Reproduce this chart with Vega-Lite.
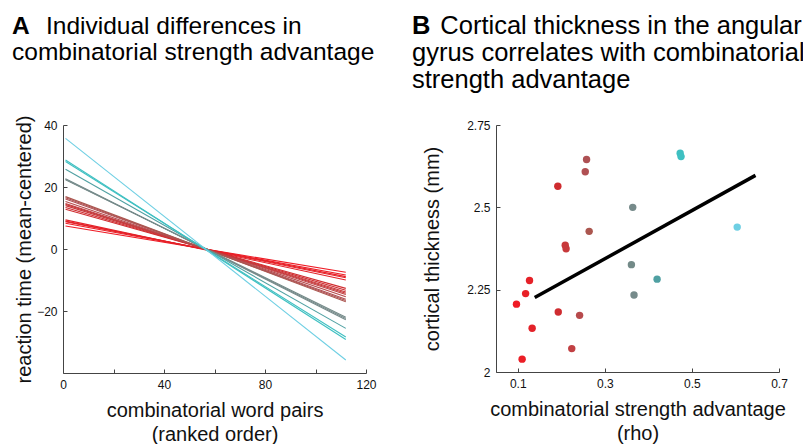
{
  "$schema": "https://vega.github.io/schema/vega-lite/v6.json",
  "background": "white",
  "padding": {"left": 12, "top": 13, "right": 4, "bottom": 0},
  "spacing": 35,
  "datasets": {
    "lines": [
      {"subject": "s01", "rho": 0.097, "pair": 1, "rt": 7.4}, {"subject": "s01", "rho": 0.097, "pair": 112, "rt": -7.5},
      {"subject": "s02", "rho": 0.110, "pair": 1, "rt": 8.3}, {"subject": "s02", "rho": 0.110, "pair": 112, "rt": -8.4},
      {"subject": "s03", "rho": 0.118, "pair": 1, "rt": 8.8}, {"subject": "s03", "rho": 0.118, "pair": 112, "rt": -8.9},
      {"subject": "s04", "rho": 0.127, "pair": 1, "rt": 9.0}, {"subject": "s04", "rho": 0.127, "pair": 112, "rt": -9.3},
      {"subject": "s05", "rho": 0.133, "pair": 1, "rt": 9.4}, {"subject": "s05", "rho": 0.133, "pair": 112, "rt": -10.0},
      {"subject": "s06", "rho": 0.192, "pair": 1, "rt": 12.8}, {"subject": "s06", "rho": 0.192, "pair": 112, "rt": -12.7},
      {"subject": "s07", "rho": 0.193, "pair": 1, "rt": 13.4}, {"subject": "s07", "rho": 0.193, "pair": 112, "rt": -13.3},
      {"subject": "s08", "rho": 0.209, "pair": 1, "rt": 14.0}, {"subject": "s08", "rho": 0.209, "pair": 112, "rt": -13.9},
      {"subject": "s09", "rho": 0.211, "pair": 1, "rt": 14.4}, {"subject": "s09", "rho": 0.211, "pair": 112, "rt": -14.3},
      {"subject": "s10", "rho": 0.224, "pair": 1, "rt": 14.7}, {"subject": "s10", "rho": 0.224, "pair": 112, "rt": -14.7},
      {"subject": "s11", "rho": 0.242, "pair": 1, "rt": 15.3}, {"subject": "s11", "rho": 0.242, "pair": 112, "rt": -15.4},
      {"subject": "s12", "rho": 0.255, "pair": 1, "rt": 16.1}, {"subject": "s12", "rho": 0.255, "pair": 112, "rt": -16.2},
      {"subject": "s13", "rho": 0.258, "pair": 1, "rt": 16.5}, {"subject": "s13", "rho": 0.258, "pair": 112, "rt": -16.6},
      {"subject": "s14", "rho": 0.264, "pair": 1, "rt": 16.9}, {"subject": "s14", "rho": 0.264, "pair": 112, "rt": -17.0},
      {"subject": "s15", "rho": 0.361, "pair": 1, "rt": 22.3}, {"subject": "s15", "rho": 0.361, "pair": 112, "rt": -22.0},
      {"subject": "s16", "rho": 0.364, "pair": 1, "rt": 22.5}, {"subject": "s16", "rho": 0.364, "pair": 112, "rt": -22.4},
      {"subject": "s17", "rho": 0.367, "pair": 1, "rt": 22.7}, {"subject": "s17", "rho": 0.367, "pair": 112, "rt": -22.8},
      {"subject": "s18", "rho": 0.420, "pair": 1, "rt": 25.7}, {"subject": "s18", "rho": 0.420, "pair": 112, "rt": -25.6},
      {"subject": "s19", "rho": 0.473, "pair": 1, "rt": 28.2}, {"subject": "s19", "rho": 0.473, "pair": 112, "rt": -28.4},
      {"subject": "s20", "rho": 0.475, "pair": 1, "rt": 28.7}, {"subject": "s20", "rho": 0.475, "pair": 112, "rt": -29.2},
      {"subject": "s21", "rho": 0.604, "pair": 1, "rt": 35.7}, {"subject": "s21", "rho": 0.604, "pair": 112, "rt": -35.8}
    ],
    "points": [
      {"rho": 0.097, "thickness": 2.206},
      {"rho": 0.110, "thickness": 2.039},
      {"rho": 0.118, "thickness": 2.238},
      {"rho": 0.127, "thickness": 2.278},
      {"rho": 0.133, "thickness": 2.133},
      {"rho": 0.192, "thickness": 2.564},
      {"rho": 0.193, "thickness": 2.182},
      {"rho": 0.209, "thickness": 2.385},
      {"rho": 0.211, "thickness": 2.374},
      {"rho": 0.224, "thickness": 2.071},
      {"rho": 0.242, "thickness": 2.172},
      {"rho": 0.255, "thickness": 2.608},
      {"rho": 0.258, "thickness": 2.645},
      {"rho": 0.264, "thickness": 2.427},
      {"rho": 0.364, "thickness": 2.500},
      {"rho": 0.361, "thickness": 2.326},
      {"rho": 0.367, "thickness": 2.234},
      {"rho": 0.420, "thickness": 2.282},
      {"rho": 0.473, "thickness": 2.664},
      {"rho": 0.475, "thickness": 2.654},
      {"rho": 0.604, "thickness": 2.440}
    ],
    "fit": [
      {"rho": 0.139, "thickness": 2.226},
      {"rho": 0.646, "thickness": 2.597}
    ]
  },
  "config": {
    "font": "Liberation Sans",
    "view": {"stroke": null},
    "axis": {
      "grid": false,
      "domainColor": "#444444",
      "tickColor": "#444444",
      "labelColor": "#111111",
      "titleColor": "#111111",
      "labelFont": "Liberation Sans",
      "titleFont": "Liberation Sans",
      "labelFontSize": 12,
      "titleFontSize": 20,
      "titleFontWeight": "normal",
      "tickSize": -4,
      "labelPadding": 10,
      "labelFlush": false,
      "domainWidth": 1,
      "tickWidth": 1
    },
    "title": {
      "font": "Liberation Sans",
      "subtitleFont": "Liberation Sans",
      "color": "#000000",
      "subtitleColor": "#000000",
      "anchor": "start",
      "frame": "group"
    }
  },
  "hconcat": [
    {
      "width": 303,
      "height": 248,
      "title": {
        "text": "A",
        "subtitle": ["\u200b\u00a0\u00a0\u00a0\u00a0\u00a0Individual differences in", "combinatorial strength advantage"],
        "fontSize": 24.5,
        "fontWeight": "bold",
        "subtitleFontSize": 24.5,
        "subtitleLineHeight": 26,
        "subtitlePadding": -24.5,
        "dx": -51,
        "offset": 50
      },
      "data": {"name": "lines"},
      "mark": {"type": "line", "strokeWidth": 1.1},
      "encoding": {
        "x": {
          "field": "pair", "type": "quantitative",
          "scale": {"domain": [0, 120], "nice": false},
          "axis": {
            "values": [0, 20, 40, 60, 80, 100, 120],
            "labelExpr": "datum.value % 40 == 0 ? datum.label : ''",
            "title": ["combinatorial word pairs", "(ranked order)"],
            "titleLineHeight": 24,
            "titlePadding": 10
          }
        },
        "y": {
          "field": "rt", "type": "quantitative",
          "scale": {"domain": [-40, 40], "nice": false},
          "axis": {
            "values": [-20, 0, 20, 40],
            "title": "reaction time (mean-centered)",
            "titlePadding": 2
          }
        },
        "detail": {"field": "subject", "type": "nominal"},
        "color": {
          "field": "rho", "type": "quantitative", "legend": null,
          "scale": {
            "domain": [0.1, 0.19, 0.26, 0.365, 0.42, 0.475, 0.6],
            "range": ["#ee1c25", "#d02a2e", "#ad5255", "#778a8a", "#4fa0a2", "#3ec0c2", "#6dcfe2"]
          }
        }
      }
    },
    {
      "width": 283,
      "height": 247,
      "title": {
        "text": "B",
        "subtitle": ["\u200b\u00a0\u00a0\u00a0\u00a0Cortical thickness in the angular", "gyrus correlates with combinatorial", "strength advantage"],
        "fontSize": 25.5,
        "fontWeight": "bold",
        "subtitleFontSize": 25.5,
        "subtitleLineHeight": 27,
        "subtitlePadding": -25.5,
        "dx": -84,
        "offset": 26
      },
      "layer": [
        {
          "data": {"name": "points"},
          "mark": {"type": "circle", "size": 55, "opacity": 1},
          "encoding": {
            "x": {
              "field": "rho", "type": "quantitative",
              "scale": {"domain": [0.05, 0.7], "zero": false, "nice": false},
              "axis": {
                "values": [0.1, 0.3, 0.5, 0.7],
                "format": ".1f",
                "title": ["combinatorial strength advantage", "(rho)"],
                "titleLineHeight": 24,
                "titlePadding": 10
              }
            },
            "y": {
              "field": "thickness", "type": "quantitative",
              "scale": {"domain": [2, 2.75], "zero": false, "nice": false},
              "axis": {
                "values": [2, 2.25, 2.5, 2.75],
                "labelExpr": "datum.value + ''",
                "title": "cortical thickness (mm)",
                "titlePadding": 24
              }
            },
            "color": {
              "field": "rho", "type": "quantitative", "legend": null,
              "scale": {
                "domain": [0.1, 0.19, 0.26, 0.365, 0.42, 0.475, 0.6],
                "range": ["#ee1c25", "#d02a2e", "#ad5255", "#778a8a", "#4fa0a2", "#3ec0c2", "#6dcfe2"]
              }
            }
          }
        },
        {
          "data": {"name": "fit"},
          "mark": {"type": "line", "color": "black", "strokeWidth": 3.5},
          "encoding": {
            "x": {"field": "rho", "type": "quantitative", "scale": {"domain": [0.05, 0.7], "zero": false, "nice": false}},
            "y": {"field": "thickness", "type": "quantitative", "scale": {"domain": [2, 2.75], "zero": false, "nice": false}}
          }
        }
      ]
    }
  ]
}
